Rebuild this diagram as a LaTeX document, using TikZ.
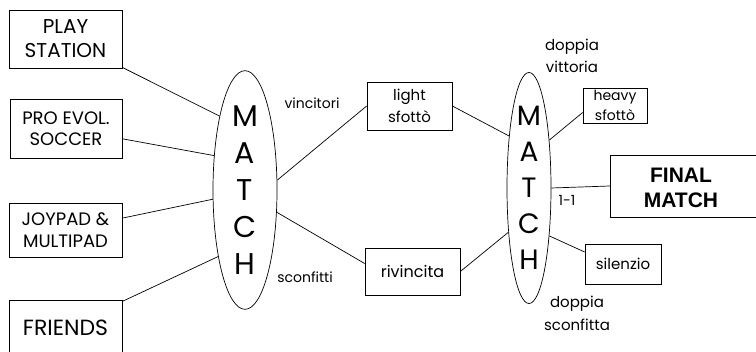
\documentclass[tikz,border=0pt]{standalone}
\usepackage{fontspec}
\setmainfont{Poppins}
\setsansfont{Liberation Sans}
\usetikzlibrary{shapes.geometric}

\begin{document}
\begin{tikzpicture}[x=1pt,y=-1pt,line width=0.7pt,
	box/.style={draw,rectangle,inner sep=0pt,align=center},
	matchell/.style={draw,ellipse,inner sep=0pt,align=center},
	lbl/.style={inner sep=0pt,align=center,font=\fontsize{14}{22}\selectfont}]

	\useasboundingbox (0,0) rectangle (756,352);
	\clip (0,0) rectangle (756,352);

	% giocatori
	\node[box,minimum width=113,minimum height=58,font=\fontsize{20}{24}\selectfont] (play) at (65.5,39) {PLAY\\STATION};
	\node[box,minimum width=112,minimum height=59,font=\fontsize{18}{21}\selectfont] (pes) at (66,128.5) {PRO EVOL.\\SOCCER};
	\node[box,minimum width=113,minimum height=54,font=\fontsize{18}{22}\selectfont] (pad) at (65.5,230) {JOYPAD \&\\MULTIPAD};
	\node[box,minimum width=113,minimum height=56,font=\fontsize{22}{24}\selectfont] (friends) at (65.5,328) {FRIENDS};

	% primo match
	\node[matchell,minimum width=64,minimum height=216,font=\fontsize{30}{37}\selectfont] (match1) at (245,190) {M\\A\\T\\C\\H};
	\node[lbl] (vinc) at (312,103) {vincitori};
	\node[lbl] (sconf) at (305,277) {sconfitti};

	\node[box,minimum width=85,minimum height=48,font=\fontsize{15}{22}\selectfont] (light) at (409.5,106) {light\\sfottò};
	\node[box,minimum width=95,minimum height=47,font=\fontsize{16}{22}\selectfont] (rivinc) at (412.5,271.5) {rivincita};

	% secondo match
	\node[matchell,minimum width=44,minimum height=210,font=\fontsize{28}{36}\selectfont] (match2) at (529,188) {M\\A\\T\\C\\H};
	\node[lbl,font=\fontsize{15}{22}\selectfont] (dvitt) at (572,56) {doppia\\vittoria};
	\node[lbl,font=\fontsize{15}{23}\selectfont] (dsconf) at (577,313) {doppia\\sconfitta};
	\node[lbl,font=\fontsize{14}{16}\selectfont] (pari) at (567,200) {1-1};

	\node[box,minimum width=64,minimum height=35,font=\fontsize{14}{20}\selectfont] (heavy) at (615,105.5) {heavy\\sfottò};
	\node[box,minimum width=76,minimum height=40,font=\fontsize{15}{20}\selectfont] (silenzio) at (623,264) {silenzio};
	\node[box,minimum width=170,minimum height=62,anchor=west] (final) at (610,186) {};
	\node[inner sep=0pt,align=center,font=\sffamily\bfseries\fontsize{21}{25}\selectfont] (finaltxt) at (681,188) {FINAL\\MATCH};

	\path (play) edge (match1.109)
		(pes) edge (match1.132)
		(pad) edge (match1.196)
		(friends) edge (match1.248)
		(match1.17) edge (light.west)
		(match1.-35) edge ([yshift=8pt]rivinc.west)
		(light.east) edge (match2.111)
		(rivinc.east) edge (match2.245)
		(match2.67) edge ([yshift=-7pt]heavy.west)
		(match2.east) edge (final.west)
		(match2.-67) edge ([yshift=12pt]silenzio.west);

\end{tikzpicture}
\end{document}
